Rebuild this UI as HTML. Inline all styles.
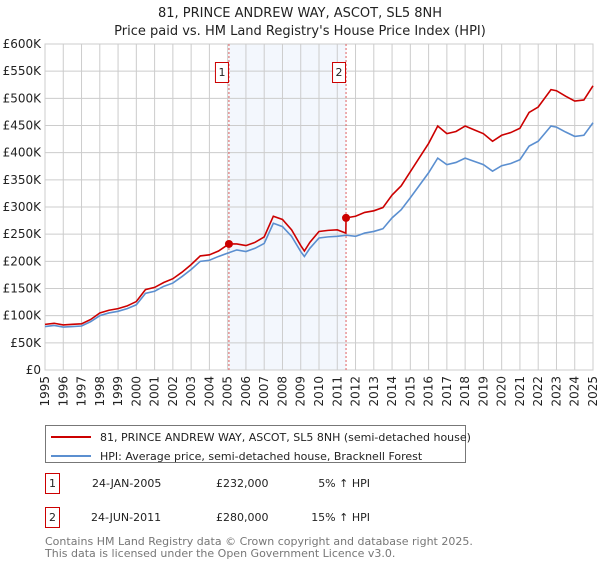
<!DOCTYPE html>
<html><head><meta charset="utf-8"><style>
body{margin:0;background:#fff;font-family:"Liberation Sans","DejaVu Sans",sans-serif;}
svg text{font-family:"DejaVu Sans","Liberation Sans",sans-serif;}
</style></head><body>
<svg id="chart" width="600" height="560" viewBox="0 0 600 560" xmlns="http://www.w3.org/2000/svg">
<text x="300" y="17" font-size="13" text-anchor="middle" fill="#222">81, PRINCE ANDREW WAY, ASCOT, SL5 8NH</text>
<text x="300" y="35" font-size="13" text-anchor="middle" fill="#222">Price paid vs. HM Land Registry's House Price Index (HPI)</text>
<g id="plot"></g>
<g>
<rect x="45.5" y="425.5" width="420" height="37" fill="#fff" stroke="#777"/>
<line x1="51" y1="437" x2="91" y2="437" stroke="#cc0000" stroke-width="2"/>
<text x="100" y="441" font-size="11" fill="#222">81, PRINCE ANDREW WAY, ASCOT, SL5 8NH (semi-detached house)</text>
<line x1="51" y1="456" x2="91" y2="456" stroke="#5b8fd0" stroke-width="2"/>
<text x="100" y="460" font-size="11" fill="#222">HPI: Average price, semi-detached house, Bracknell Forest</text>
</g>
<g font-size="11" fill="#222">
<rect x="45.5" y="473.5" width="14" height="20" fill="#fff" stroke="#cc0000"/>
<text x="52.5" y="487" text-anchor="middle">1</text>
<text x="92" y="487">24-JAN-2005</text>
<text x="216" y="487">£232,000</text>
<text x="370" y="487" text-anchor="end">5% ↑ HPI</text>
<rect x="45.5" y="507.5" width="14" height="20" fill="#fff" stroke="#cc0000"/>
<text x="52.5" y="521" text-anchor="middle">2</text>
<text x="91" y="521">24-JUN-2011</text>
<text x="216" y="521">£280,000</text>
<text x="370" y="521" text-anchor="end">15% ↑ HPI</text>
</g>
<text x="45" y="545" font-size="11" fill="#777">Contains HM Land Registry data © Crown copyright and database right 2025.</text>
<text x="45" y="557" font-size="11" fill="#777">This data is licensed under the Open Government Licence v3.0.</text>
</svg>
<script>
const hpiYears=[1995,1995.5,1996,1996.5,1997,1997.5,1998,1998.5,1999,1999.5,2000,2000.5,2001,2001.5,2002,2002.5,2003,2003.5,2004,2004.5,2005,2005.5,2006,2006.5,2007,2007.5,2008,2008.5,2009,2009.2,2009.5,2010,2010.5,2011,2011.5,2012,2012.5,2013,2013.5,2014,2014.5,2015,2015.5,2016,2016.5,2017,2017.5,2018,2018.5,2019,2019.5,2020,2020.5,2021,2021.5,2022,2022.7,2023,2023.5,2024,2024.5,2025];
const hpiValues=[80,82,79,80,81,89,100,105,108,113,120,141,145,154,160,172,185,200,202,209,215,221,218,224,233,270,264,246,218,209,224,243,245,246,248,246,252,255,260,280,295,317,340,363,390,378,382,390,384,378,366,376,380,387,412,421,449,447,438,430,432,455];
const priceYears=[1995,1995.5,1996,1996.5,1997,1997.5,1998,1998.5,1999,1999.5,2000,2000.5,2001,2001.5,2002,2002.5,2003,2003.5,2004,2004.5,2005.07,2005.5,2006,2006.5,2007,2007.5,2008,2008.5,2009,2009.2,2009.5,2010,2010.5,2011,2011.47,2011.48,2012,2012.5,2013,2013.5,2014,2014.5,2015,2015.5,2016,2016.5,2017,2017.5,2018,2018.5,2019,2019.5,2020,2020.5,2021,2021.5,2022,2022.7,2023,2023.5,2024,2024.5,2025];
const priceValues=[84,86,83,84,85,93,105,110,113,118,126,148,152,161,168,180,194,210,212,219,232,232,229,235,245,283,277,258,229,219,235,255,257,258,252,280,283,290,293,299,322,339,365,391,417,449,435,439,449,442,435,421,432,437,445,474,484,516,514,504,495,497,523];
const sales=[{x:2005.07,v:232,label:"1"},{x:2011.48,v:280,label:"2"}];
const yTicks=[0,50,100,150,200,250,300,350,400,450,500,550,600];
const xTicks=[1995,1996,1997,1998,1999,2000,2001,2002,2003,2004,2005,2006,2007,2008,2009,2010,2011,2012,2013,2014,2015,2016,2017,2018,2019,2020,2021,2022,2023,2024,2025];
const X0=45,X1=593,Y0=370,Y1=44;
const sx=y=>X0+(y-1995)/(2025-1995)*(X1-X0);
const sy=v=>Y0-v/600*(Y0-Y1);
const NS="http://www.w3.org/2000/svg";
const g=document.getElementById('plot');
function mk(t,a){const e=document.createElementNS(NS,t);for(const k in a)e.setAttribute(k,a[k]);g.appendChild(e);return e;}
const shade=mk('rect',{x:sx(sales[0].x),y:Y1,width:sx(sales[1].x)-sx(sales[0].x),height:Y0-Y1,fill:'#eef3fc',opacity:0.7});


yTicks.forEach(v=>{
 const l=mk('line',{x1:X0,x2:X1,y1:sy(v),y2:sy(v),stroke:'#ccc','stroke-width':1});
 
 
 const t=mk('text',{x:X0-4,y:sy(v)+4,'font-size':12,'text-anchor':'end',fill:'#222'});
 t.textContent=v===0?'£0':'£'+v+'K';
 
 
});
xTicks.forEach(y=>{
 const l=mk('line',{x1:sx(y),x2:sx(y),y1:Y1,y2:Y0,stroke:'#ccc','stroke-width':1});
 
 
 const t=mk('text',{x:0,y:0,'font-size':12,'text-anchor':'end',fill:'#222',transform:`translate(${sx(y)+4},${Y0+6}) rotate(-90)`});
 t.textContent=y;
 
 
});
const fr=mk('rect',{x:X0,y:Y1,width:X1-X0,height:Y0-Y1,fill:'none',stroke:'#ccc'});


sales.forEach(s=>{
 const l=mk('line',{x1:sx(s.x),x2:sx(s.x),y1:Y1,y2:Y0,stroke:'#e06060','stroke-dasharray':'2,2'});
 
 
 const r=mk('rect',{x:sx(s.x)-13.5,y:62.5,width:13,height:20,fill:'#fff',stroke:'#cc0000'});
 
 
 const t=mk('text',{x:sx(s.x)-7,y:76,'font-size':11,'text-anchor':'middle',fill:'#222'});
 t.textContent=s.label;
 
 
});
const hp=mk('polyline',{points:hpiYears.map((y,i)=>sx(y)+','+sy(hpiValues[i])).join(' '),fill:'none',stroke:'#5b8fd0','stroke-width':1.6});


const pp=mk('polyline',{points:priceYears.map((y,i)=>sx(y)+','+sy(priceValues[i])).join(' '),fill:'none',stroke:'#cc0000','stroke-width':1.6});


sales.forEach(s=>{
 const c=mk('circle',{cx:sx(s.x),cy:sy(s.v),r:4,fill:'#cc0000'});
 
 
});
</script>
</body></html>
